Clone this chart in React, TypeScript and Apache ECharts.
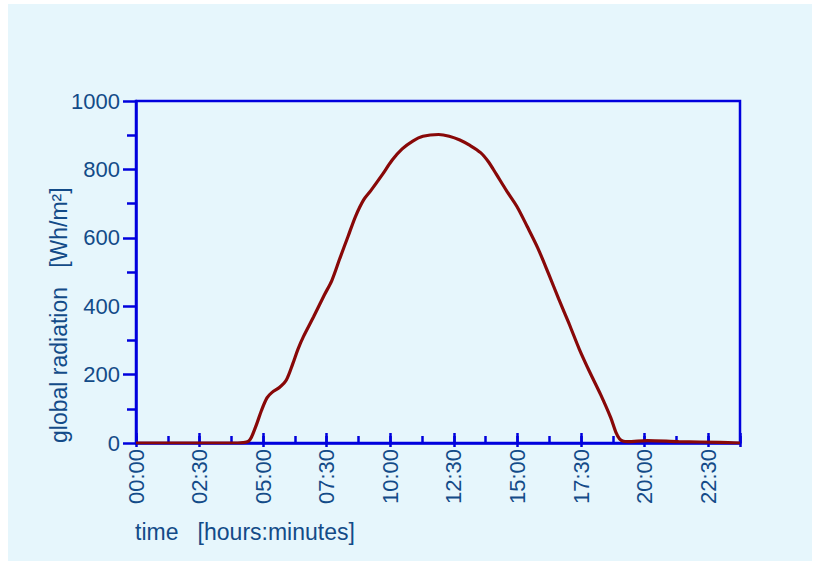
import React, { useEffect, useRef } from "react";
import * as echarts from "echarts";

// time of day in minutes since 00:00
const minutes = [0, 60, 120, 180, 240, 253, 265, 272, 284, 296, 309, 321, 339, 355, 370, 382, 395, 419, 444, 462, 481, 500, 518, 537, 554, 579, 605, 628, 653, 677, 714, 739, 764, 788, 813, 831, 850, 874, 899, 923, 948, 973, 997, 1022, 1046, 1071, 1096, 1120, 1132, 1141, 1150, 1160, 1206, 1280, 1378, 1425];
// global radiation [Wh/m²]
const radiation = [0, 0, 0, 0, 0, 1, 5, 16, 53, 95, 132, 148, 163, 185, 232, 274, 311, 369, 432, 475, 540, 603, 663, 711, 738, 781, 828, 860, 883, 897, 902, 897, 886, 870, 849, 823, 786, 738, 691, 633, 570, 496, 422, 348, 274, 206, 142, 74, 32, 12, 5, 4, 7, 4, 2, 0];

const xMin = 0;
const xMax = 1425;
const xMajor = 150;
const xMinor = 75;
const yTicks = [0, 200, 400, 600, 800, 1000];

const yTitle = "global radiation   [Wh/m²]";
const xTitle = "time   [hours:minutes]";

const AXIS = "#0000dd";
const TEXT = "#134b88";
const LINE = "#880808";
const FONT = "'Liberation Sans', Arial, sans-serif";

function fmt(v: number): string {
  if (v % xMajor !== 0) return "";
  const h = Math.floor(v / 60);
  const m = v % 60;
  return String(h).padStart(2, "0") + ":" + String(m).padStart(2, "0");
}

export default function App() {
  const ref = useRef<HTMLDivElement>(null);
  useEffect(() => {
    if (!ref.current) return;
    const chart = echarts.init(ref.current, undefined, { renderer: "svg" });
    const baseX = {
      type: "value" as const,
      min: xMin,
      max: xMax,
      position: "bottom" as const,
      splitLine: { show: false },
    };
    chart.setOption({
      animation: false,
      backgroundColor: "#ffffff",
      textStyle: { fontFamily: FONT },
      graphic: [
        {
          type: "rect",
          z: -10,
          silent: true,
          shape: { x: 8, y: 4, width: 804, height: 557 },
          style: { fill: "#e6f6fc" },
        },
        {
          type: "text",
          x: 59,
          y: 443,
          rotation: Math.PI / 2,
          style: {
            text: yTitle,
            fill: TEXT,
            font: `23px ${FONT}`,
            align: "left",
            verticalAlign: "middle",
            textAlign: "left",
            textVerticalAlign: "middle",
          },
        },
        {
          type: "text",
          x: 135,
          y: 532,
          style: {
            text: xTitle,
            fill: TEXT,
            font: `23px ${FONT}`,
            align: "left",
            verticalAlign: "middle",
            textAlign: "left",
            textVerticalAlign: "middle",
          },
        },
      ],
      grid: {
        left: 136,
        top: 101,
        right: 79,
        bottom: 122,
        show: true,
        borderColor: AXIS,
        borderWidth: 2.5,
        backgroundColor: "transparent",
      },
      xAxis: [
        {
          ...baseX,
          interval: xMajor,
          axisLine: { show: true, lineStyle: { color: AXIS, width: 2.5 } },
          axisTick: { show: true, inside: true, length: 10, lineStyle: { color: AXIS, width: 2.5 } },
          axisLabel: {
            show: true,
            rotate: 90,
            margin: 6,
            color: TEXT,
            fontSize: 22,
            fontFamily: FONT,
            formatter: (v: number) => fmt(v),
          },
        },
        {
          ...baseX,
          interval: xMinor,
          axisLine: { show: false },
          axisTick: { show: true, inside: true, length: 7, lineStyle: { color: AXIS, width: 2.5 } },
          axisLabel: { show: false },
        },
        {
          ...baseX,
          interval: xMajor,
          axisLine: { show: false },
          axisTick: { show: true, inside: false, length: 4, lineStyle: { color: AXIS, width: 2.5 } },
          axisLabel: { show: false },
        },
      ],
      yAxis: {
        type: "value",
        min: yTicks[0],
        max: yTicks[yTicks.length - 1],
        interval: yTicks[1] - yTicks[0],
        splitLine: { show: false },
        axisLine: { show: true, lineStyle: { color: AXIS, width: 2.5 } },
        axisTick: { show: true, inside: false, length: 13, lineStyle: { color: AXIS, width: 2.5 } },
        minorTick: { show: true, splitNumber: 2, length: 9, lineStyle: { color: AXIS, width: 2.5 } },
        axisLabel: {
          color: TEXT,
          fontSize: 22,
          fontFamily: FONT,
          margin: 16,
          formatter: (v: number) => String(v),
        },
      },
      series: [
        {
          type: "line",
          xAxisIndex: 0,
          data: minutes.map((m, i) => [m, radiation[i]]),
          showSymbol: false,
          smooth: 0.3,
          lineStyle: { color: LINE, width: 3.2 },
          z: 5,
        },
      ],
    });
    return () => chart.dispose();
  }, []);
  return (
    <div
      ref={ref}
      style={{ position: "absolute", left: 0, top: 0, width: 819, height: 565 }}
    />
  );
}
